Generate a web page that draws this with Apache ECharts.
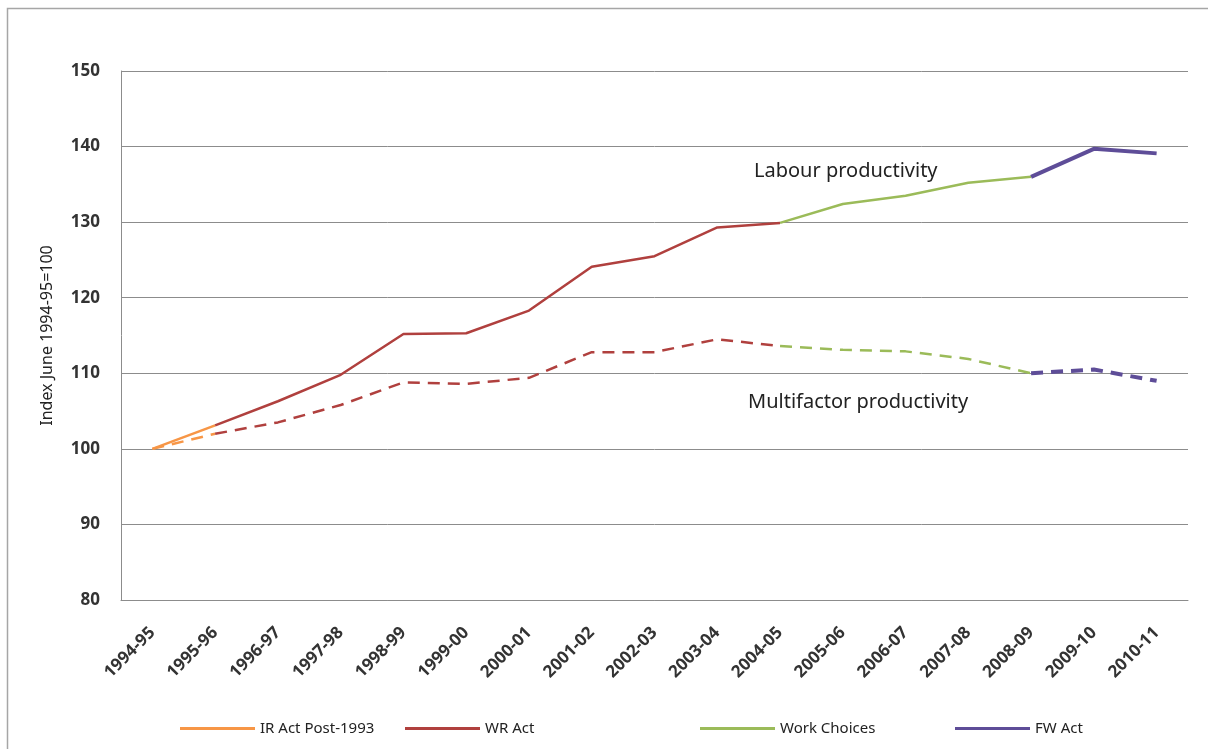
<!DOCTYPE html>
<html>
<head>
<meta charset="utf-8">
<script src="https://cdn.jsdelivr.net/npm/echarts@6/dist/echarts.min.js"></script>
<style>
html,body{margin:0;padding:0;background:#fff;}
#c{width:1208px;height:749px;}
</style>
</head>
<body>
<div id="c"></div>
<script>
var categories = ['1994-95','1995-96','1996-97','1997-98','1998-99','1999-00','2000-01','2001-02','2002-03','2003-04','2004-05','2005-06','2006-07','2007-08','2008-09','2009-10','2010-11'];
var labourProductivity = [100, 103.1, 106.3, 109.8, 115.2, 115.3, 118.3, 124.1, 125.5, 129.3, 129.9, 132.4, 133.5, 135.2, 136.0, 139.7, 139.1];
var multifactorProductivity = [100, 102.0, 103.5, 105.8, 108.8, 108.6, 109.4, 112.8, 112.8, 114.5, 113.6, 113.1, 112.9, 111.9, 110.0, 110.5, 109.0];
var periodNames = ['IR Act Post-1993', 'WR Act', 'Work Choices', 'FW Act'];
var periodStart = [0, 1, 10, 14];
var periodEnd = [1, 10, 14, 16];
var periodColors = ['#F79646', '#B0403E', '#9BBB59', '#5E4D98'];
var periodWidths = [2.5, 2.5, 2.5, 4];
var legendLeft = [180, 405, 700, 955];
var yTicks = [80, 90, 100, 110, 120, 130, 140, 150];

function segment(values, s, e) {
  return values.map(function (v, i) { return (i >= s && i <= e) ? v : null; });
}

var series = [];
periodNames.forEach(function (name, k) {
  series.push({
    name: name, type: 'line', symbol: 'none', connectNulls: false,
    data: segment(labourProductivity, periodStart[k], periodEnd[k]),
    lineStyle: { color: periodColors[k], width: periodWidths[k], type: 'solid' },
    itemStyle: { color: periodColors[k] }, z: 3
  });
});
periodNames.forEach(function (name, k) {
  series.push({
    name: name + ' (MFP)', type: 'line', symbol: 'none', connectNulls: false,
    data: segment(multifactorProductivity, periodStart[k], periodEnd[k]),
    lineStyle: { color: periodColors[k], width: periodWidths[k], type: [12, 8] },
    itemStyle: { color: periodColors[k] }, z: 2
  });
});

var legends = periodNames.map(function (name, k) {
  return {
    data: [name],
    top: 716,
    left: legendLeft[k] - 5,
    itemWidth: 75,
    itemHeight: 3,
    icon: 'rect',
    selectedMode: false,
    textStyle: { fontFamily: 'Noto Sans', fontSize: 15, color: '#222' }
  };
});

var chart = echarts.init(document.getElementById('c'));
chart.setOption({
  animation: false,
  backgroundColor: '#fff',
  grid: { left: 121, right: 20, top: 71, bottom: 149 },
  legend: legends,
  xAxis: {
    type: 'category',
    data: categories,
    boundaryGap: true,
    axisLine: { show: true, lineStyle: { color: '#8c8c8c', width: 1 } },
    axisTick: { show: false },
    axisLabel: { rotate: 45, interval: 0, margin: 30, fontFamily: 'Noto Sans', fontSize: 17, fontWeight: 'bold', color: '#333' }
  },
  yAxis: {
    type: 'value', min: 80, max: 150, interval: 10,
    name: 'Index June 1994-95=100',
    nameLocation: 'middle', nameGap: 66, nameRotate: 90,
    nameTextStyle: { fontFamily: 'Noto Sans', fontSize: 16, color: '#222' },
    axisLine: { show: true, lineStyle: { color: '#8c8c8c', width: 1 } },
    axisTick: { show: false },
    splitLine: { lineStyle: { color: '#8c8c8c', width: 1 } },
    axisLabel: { margin: 21, fontFamily: 'Noto Sans', fontSize: 17, fontWeight: 'bold', color: '#333',
      formatter: function (v) { return yTicks.indexOf(v) >= 0 ? String(v) : ''; } }
  },
  graphic: [
    { type: 'rect', shape: { x: 7.5, y: 8.5, width: 1220, height: 760 }, style: { fill: 'none', stroke: '#a6a6a6', lineWidth: 1.5 }, silent: true },
    { type: 'text', left: 754, top: 161, style: { text: 'Labour productivity', font: '20px "Noto Sans"', fill: '#222' } },
    { type: 'text', left: 748, top: 392, style: { text: 'Multifactor productivity', font: '20px "Noto Sans"', fill: '#222' } }
  ],
  series: series
});
</script>
</body>
</html>
